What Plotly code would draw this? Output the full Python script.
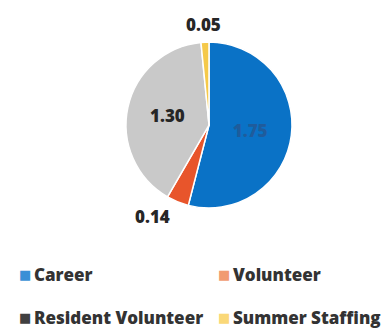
import plotly.graph_objects as go

# Staffing mix (values shown on the slices)
categories = ["Career", "Volunteer", "Resident Volunteer", "Summer Staffing"]
values = [1.75, 0.14, 1.30, 0.05]

slice_colors = ["#0a72c6", "#e8552b", "#c9c9c9", "#f5c94a"]
key_colors = ["#3b8fd6", "#f19a72", "#404040", "#fad878"]
label_colors = ["#1f5c9c", "#262626", "#262626", "#262626"]

W, H = 389, 329
FONT = "Open Sans"

fig = go.Figure()
fig.add_trace(go.Pie(
    labels=categories,
    values=values,
    sort=False,
    direction="clockwise",
    rotation=0,
    marker=dict(colors=slice_colors, line=dict(color="white", width=1.5)),
    texttemplate="%{value:.2f}",
    textposition=["inside", "none", "inside", "none"],
    insidetextorientation="horizontal",
    textfont=dict(family=FONT, size=17, color=label_colors, weight=800),
    showlegend=False,
    hoverinfo="label+value",
    domain=dict(x=[126 / W, 292 / W], y=[(H - 208) / H, (H - 42) / H]),
))

annotations = []

# Values of the two thin slices sit outside the pie
outside_pos = {1: (152, 217), 3: (203, 24)}
for i, (px, py) in outside_pos.items():
    annotations.append(dict(
        x=px / W, y=(H - py) / H, xref="paper", yref="paper",
        xanchor="center", yanchor="middle", showarrow=False,
        text=f"{values[i]:.2f}",
        font=dict(family=FONT, size=17, color="#262626", weight=800),
    ))

# Two-column key beneath the pie
key_pos = [(17, 274), (216, 274), (17, 317), (216, 317)]
for name, col, (px, py) in zip(categories, key_colors, key_pos):
    annotations.append(dict(
        x=px / W, y=(H - py) / H, xref="paper", yref="paper",
        xanchor="left", yanchor="middle", showarrow=False,
        text="■",
        font=dict(family="DejaVu Sans", size=13, color=col),
    ))
    annotations.append(dict(
        x=(px + 15) / W, y=(H - py) / H, xref="paper", yref="paper",
        xanchor="left", yanchor="middle", showarrow=False,
        text=name,
        font=dict(family=FONT, size=17, color="#333333", weight=800),
    ))

fig.update_layout(
    width=W, height=H,
    margin=dict(l=0, r=0, t=0, b=0),
    paper_bgcolor="white",
    plot_bgcolor="white",
    annotations=annotations,
)

fig.write_html("out.html")
